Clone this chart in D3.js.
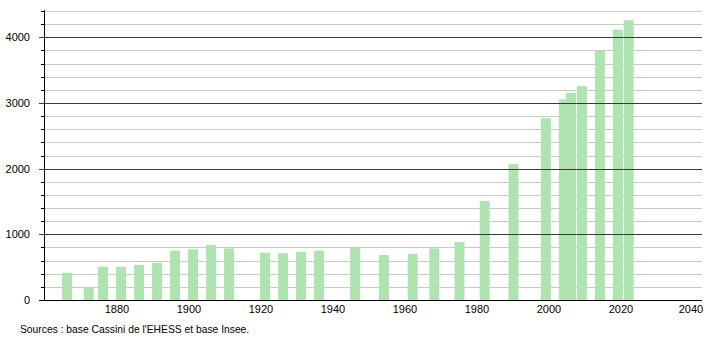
<!DOCTYPE html>
<html>
<head>
<meta charset="utf-8">
<script src="https://cdn.jsdelivr.net/npm/d3@7"></script>
<style>
  body { margin: 0; background: #fff; }
  text { font-family: "Liberation Sans", Arial, sans-serif; }
</style>
</head>
<body>
<div id="chart"></div>
<script>
// census years and population
const years = [1866, 1872, 1876, 1881, 1886, 1891, 1896, 1901, 1906, 1911,
  1921, 1926, 1931, 1936, 1946, 1954, 1962, 1968, 1975, 1982,
  1990, 1999, 2004, 2006, 2009, 2014, 2019, 2022];
const population = [415, 195, 506, 505, 532, 567, 750, 771, 836, 786,
  720, 712, 735, 750, 795, 685, 700, 786, 882, 1506,
  2068, 2768, 3057, 3153, 3255, 3792, 4117, 4259];
const xTicks = [1880, 1900, 1920, 1940, 1960, 1980, 2000, 2020, 2040];
const yTicks = [0, 1000, 2000, 3000, 4000];
const source = "Sources : base Cassini de l'EHESS et base Insee.";

const width = 710, height = 340;

const svg = d3.select('#chart').append('svg')
  .attr('width', width)
  .attr('height', height);

let x = d3.scaleLinear()
  .domain([1860, 2040])
  .range([45, 693]);
let y = d3.scaleLinear()
  .domain([0, 4400])
  .range([300, 11]);

const axisLeftX = 44, axisRight = 702;

// grid lines, light every 200, dark every 1000
const minor = d3.range(200, 4401, 200).filter(v => v % 1000 !== 0);
svg.append('g').selectAll('line')
  .data(minor)
  .enter().append('line')
    .attr('x1', axisLeftX + 1).attr('x2', axisRight)
    .attr('y1', d => Math.round(y(d)) + 0.5)
    .attr('y2', d => Math.round(y(d)) + 0.5)
    .style('stroke', '#c8c8c8');

// bars
svg.append('g').selectAll('rect')
  .data(years)
  .enter().append('rect')
    .attr('x', (d) => x(d) - 4.5)
    .attr('width', 10)
    .attr('y', (d, i) => y(population[i]))
    .attr('height', (d, i) => y(0) - y(population[i]))
    .style('fill', '#afe3af');

svg.append('g').selectAll('line')
  .data(yTicks.filter(v => v > 0))
  .enter().append('line')
    .attr('x1', axisLeftX - 5).attr('x2', axisRight)
    .attr('y1', d => Math.round(y(d)) + 0.5)
    .attr('y2', d => Math.round(y(d)) + 0.5)
    .style('stroke', '#3a3a3a');

// minor ticks on y axis
svg.append('g').selectAll('line')
  .data(minor)
  .enter().append('line')
    .attr('x1', axisLeftX - 3).attr('x2', axisLeftX)
    .attr('y1', d => Math.round(y(d)) + 0.5)
    .attr('y2', d => Math.round(y(d)) + 0.5)
    .style('stroke', '#000');

// axes lines
svg.append('line')
  .attr('x1', axisLeftX + 0.5).attr('x2', axisLeftX + 0.5)
  .attr('y1', 10).attr('y2', y(0))
  .style('stroke', '#000');
svg.append('line')
  .attr('x1', axisLeftX - 5).attr('x2', axisRight)
  .attr('y1', y(0) + 0.5).attr('y2', y(0) + 0.5)
  .style('stroke', '#000');

// labels
svg.append('g').selectAll('text')
  .data(yTicks)
  .enter().append('text')
    .attr('x', 30)
    .attr('y', d => y(d) + 4)
    .attr('text-anchor', 'end')
    .style('font-size', '11px')
    .text(d => d);

svg.append('g').selectAll('text')
  .data(xTicks)
  .enter().append('text')
    .attr('x', d => Math.min(x(d), axisRight - 11))
    .attr('y', 313)
    .attr('text-anchor', 'middle')
    .style('font-size', '11px')
    .text(d => d);

svg.append('text')
  .attr('x', 20)
  .attr('y', 333)
  .style('font-size', '10.3px')
  .text(source);
</script>
</body>
</html>
